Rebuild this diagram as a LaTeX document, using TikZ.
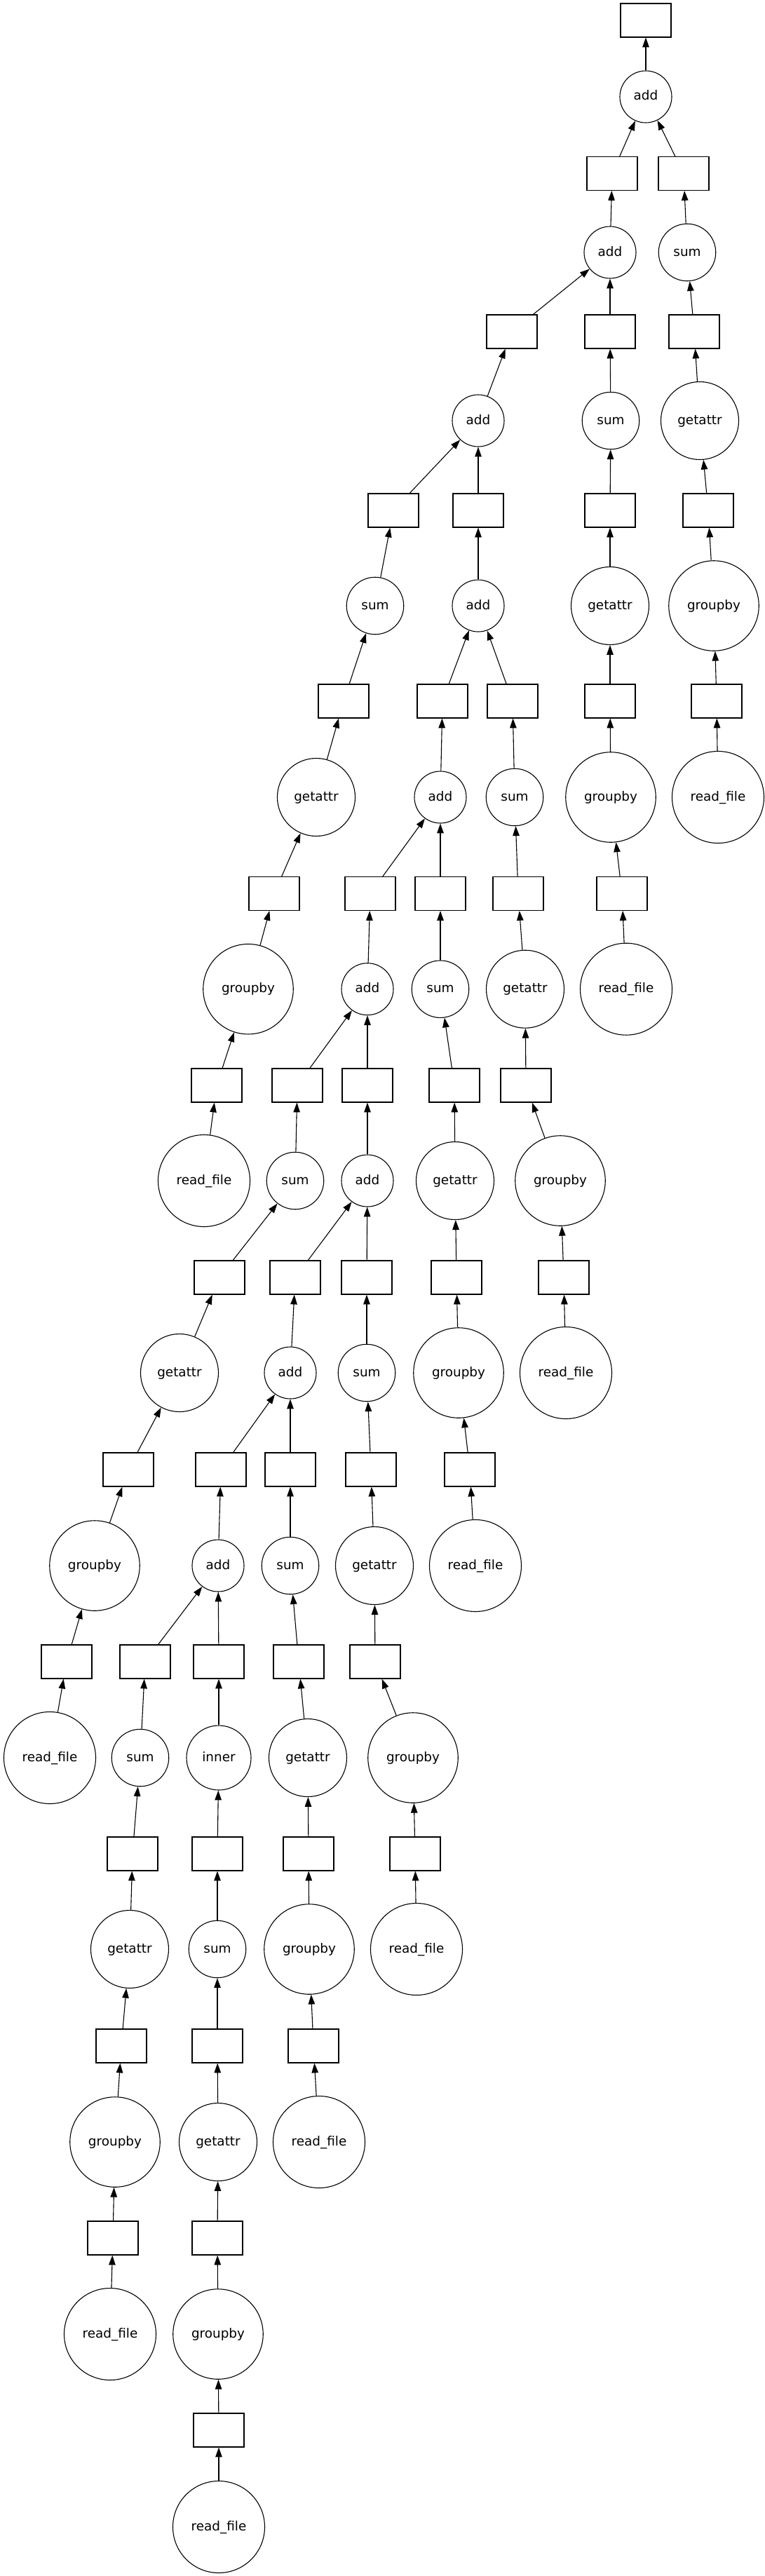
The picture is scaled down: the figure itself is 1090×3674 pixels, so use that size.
\documentclass[tikz,border=0pt]{standalone}
\usepackage{fontspec}
\setmainfont{DejaVu Sans}
\usetikzlibrary{arrows.meta}
\begin{document}
\begin{tikzpicture}[x=1pt,y=-1pt,
 dbox/.style={draw, rectangle, line width=1.1pt, minimum width=72pt, minimum height=48pt, inner sep=0pt},
 fn/.style={draw, circle, line width=1.1pt, inner sep=0pt, font=\fontsize{18.4}{22}\selectfont, text height=13.5pt, text depth=3.5pt},
 fadd/.style={fn, minimum size=74pt},
 fsum/.style={fn, minimum size=81.5pt},
 finner/.style={fn, minimum size=92pt},
 fget/.style={fn, minimum size=111pt},
 fgrp/.style={fn, minimum size=128.5pt},
 fread/.style={fn, minimum size=131pt},
 conn/.style={line width=1.1pt, -{Triangle[length=13.8pt,width=9.5pt]}}]
\useasboundingbox (0,0) rectangle (1090,3674);
% r0
\node[dbox] (B0) at (921,29) {};
% r1
\node[fadd] (A1) at (921,138) {add};
% r2
\node[dbox] (B2a) at (873,247.5) {};
\node[dbox] (B2b) at (975,247.5) {};
% r3
\node[fadd] (A3) at (870,360) {add};
\node[fsum] (S3) at (980,360) {sum};
% r4
\node[dbox] (B4a) at (730,473) {};
\node[dbox] (B4b) at (870,473) {};
\node[dbox] (B4c) at (990,473) {};
% r5
\node[fadd] (A5) at (682,600) {add};
\node[fsum] (S5) at (871,600) {sum};
\node[fget] (G5) at (998,600) {getattr};
% r6
\node[dbox] (B6a) at (561,728) {};
\node[dbox] (B6b) at (682,728) {};
\node[dbox] (B6c) at (870,728) {};
\node[dbox] (B6d) at (1010,728) {};
% r7
\node[fsum] (S7) at (535,864) {sum};
\node[fadd] (A7) at (682,864) {add};
\node[fget] (G7) at (870,864) {getattr};
\node[fgrp] (P7) at (1018,864) {groupby};
% r8
\node[dbox] (B8a) at (490,1000) {};
\node[dbox] (B8b) at (631,1000) {};
\node[dbox] (B8c) at (731,1000) {};
\node[dbox] (B8d) at (870,1000) {};
\node[dbox] (B8e) at (1022,1000) {};
% r9
\node[fget] (G9) at (451,1137) {getattr};
\node[fadd] (A9) at (628,1137) {add};
\node[fsum] (S9) at (734,1137) {sum};
\node[fgrp] (P9) at (871,1137) {groupby};
\node[fread] (R9) at (1024,1137) {read\_file};
% r10
\node[dbox] (B10a) at (391,1274.5) {};
\node[dbox] (B10b) at (528,1274.5) {};
\node[dbox] (B10c) at (628,1274.5) {};
\node[dbox] (B10d) at (739,1274.5) {};
\node[dbox] (B10e) at (887,1274.5) {};
% r11
\node[fgrp] (P11) at (354,1410.7) {groupby};
\node[fadd] (A11) at (524,1410.7) {add};
\node[fsum] (S11) at (628,1410.7) {sum};
\node[fget] (G11) at (749,1410.7) {getattr};
\node[fread] (R11) at (893,1410.7) {read\_file};
% r12
\node[dbox] (B12a) at (309,1548) {};
\node[dbox] (B12b) at (424,1548) {};
\node[dbox] (B12c) at (524,1548) {};
\node[dbox] (B12d) at (648,1548) {};
\node[dbox] (B12e) at (750,1548) {};
% r13
\node[fread] (R13) at (291,1684) {read\_file};
\node[fsum] (S13) at (421,1684) {sum};
\node[fadd] (A13) at (524,1684) {add};
\node[fget] (G13) at (649,1684) {getattr};
\node[fgrp] (P13) at (799,1684) {groupby};
% r14
\node[dbox] (B14a) at (313,1822) {};
\node[dbox] (B14b) at (421,1822) {};
\node[dbox] (B14c) at (523,1822) {};
\node[dbox] (B14d) at (651,1822) {};
\node[dbox] (B14e) at (804,1822) {};
% r15
\node[fget] (G15) at (256,1958) {getattr};
\node[fadd] (A15) at (414,1958) {add};
\node[fsum] (S15) at (523,1958) {sum};
\node[fgrp] (P15) at (654,1958) {groupby};
\node[fread] (R15) at (807,1958) {read\_file};
% r16
\node[dbox] (B16a) at (183,2096) {};
\node[dbox] (B16b) at (315,2096) {};
\node[dbox] (B16c) at (414,2096) {};
\node[dbox] (B16d) at (529,2096) {};
\node[dbox] (B16e) at (670,2096) {};
% r17
\node[fgrp] (P17) at (135,2233) {groupby};
\node[fadd] (A17) at (311,2233) {add};
\node[fsum] (S17) at (414,2233) {sum};
\node[fget] (G17) at (534,2233) {getattr};
\node[fread] (R17) at (678,2233) {read\_file};
% r18
\node[dbox] (B18a) at (95,2370) {};
\node[dbox] (B18b) at (207,2370) {};
\node[dbox] (B18c) at (312,2370) {};
\node[dbox] (B18d) at (426,2370) {};
\node[dbox] (B18e) at (535,2370) {};
% r19
\node[fread] (R19) at (71,2507) {read\_file};
\node[fsum] (S19) at (200,2507) {sum};
\node[finner] (I19) at (312,2507) {inner};
\node[fget] (G19) at (439,2507) {getattr};
\node[fgrp] (P19) at (589,2507) {groupby};
% r20
\node[dbox] (B20a) at (189,2644) {};
\node[dbox] (B20b) at (310,2644) {};
\node[dbox] (B20c) at (440,2644) {};
\node[dbox] (B20d) at (592,2644) {};
% r21
\node[fget] (G21) at (185,2780) {getattr};
\node[fsum] (S21) at (310,2780) {sum};
\node[fgrp] (P21) at (441,2780) {groupby};
\node[fread] (R21) at (594,2780) {read\_file};
% r22
\node[dbox] (B22a) at (173,2918) {};
\node[dbox] (B22b) at (310,2918) {};
\node[dbox] (B22c) at (447,2918) {};
% r23
\node[fgrp] (P23) at (164,3055) {groupby};
\node[fget] (G23) at (311,3055) {getattr};
\node[fread] (R23) at (455,3055) {read\_file};
% r24
\node[dbox] (B24a) at (161,3192) {};
\node[dbox] (B24b) at (310,3192) {};
% r25
\node[fread] (R25) at (157,3329) {read\_file};
\node[fgrp] (P25) at (311,3329) {groupby};
% r26
\node[dbox] (B26) at (312,3466) {};
% r27
\node[fread] (R27) at (312,3604) {read\_file};
% edges
\draw[conn] (A1) -- (B0);
\draw[conn] (B2a) -- (A1);
\draw[conn] (B2b) -- (A1);
\draw[conn] (A3) -- (B2a);
\draw[conn] (S3) -- (B2b);
\draw[conn] (B4a) -- (A3);
\draw[conn] (B4b) -- (A3);
\draw[conn] (B4c) -- (S3);
\draw[conn] (A5) -- (B4a);
\draw[conn] (S5) -- (B4b);
\draw[conn] (G5) -- (B4c);
\draw[conn] (B6a) -- (A5);
\draw[conn] (B6b) -- (A5);
\draw[conn] (B6c) -- (S5);
\draw[conn] (B6d) -- (G5);
\draw[conn] (S7) -- (B6a);
\draw[conn] (A7) -- (B6b);
\draw[conn] (G7) -- (B6c);
\draw[conn] (P7) -- (B6d);
\draw[conn] (B8a) -- (S7);
\draw[conn] (B8b) -- (A7);
\draw[conn] (B8c) -- (A7);
\draw[conn] (B8d) -- (G7);
\draw[conn] (B8e) -- (P7);
\draw[conn] (G9) -- (B8a);
\draw[conn] (A9) -- (B8b);
\draw[conn] (S9) -- (B8c);
\draw[conn] (P9) -- (B8d);
\draw[conn] (R9) -- (B8e);
\draw[conn] (B10a) -- (G9);
\draw[conn] (B10b) -- (A9);
\draw[conn] (B10c) -- (A9);
\draw[conn] (B10d) -- (S9);
\draw[conn] (B10e) -- (P9);
\draw[conn] (P11) -- (B10a);
\draw[conn] (A11) -- (B10b);
\draw[conn] (S11) -- (B10c);
\draw[conn] (G11) -- (B10d);
\draw[conn] (R11) -- (B10e);
\draw[conn] (B12a) -- (P11);
\draw[conn] (B12b) -- (A11);
\draw[conn] (B12c) -- (A11);
\draw[conn] (B12d) -- (S11);
\draw[conn] (B12e) -- (G11);
\draw[conn] (R13) -- (B12a);
\draw[conn] (S13) -- (B12b);
\draw[conn] (A13) -- (B12c);
\draw[conn] (G13) -- (B12d);
\draw[conn] (P13) -- (B12e);
\draw[conn] (B14a) -- (S13);
\draw[conn] (B14b) -- (A13);
\draw[conn] (B14c) -- (A13);
\draw[conn] (B14d) -- (G13);
\draw[conn] (B14e) -- (P13);
\draw[conn] (G15) -- (B14a);
\draw[conn] (A15) -- (B14b);
\draw[conn] (S15) -- (B14c);
\draw[conn] (P15) -- (B14d);
\draw[conn] (R15) -- (B14e);
\draw[conn] (B16a) -- (G15);
\draw[conn] (B16b) -- (A15);
\draw[conn] (B16c) -- (A15);
\draw[conn] (B16d) -- (S15);
\draw[conn] (B16e) -- (P15);
\draw[conn] (P17) -- (B16a);
\draw[conn] (A17) -- (B16b);
\draw[conn] (S17) -- (B16c);
\draw[conn] (G17) -- (B16d);
\draw[conn] (R17) -- (B16e);
\draw[conn] (B18a) -- (P17);
\draw[conn] (B18b) -- (A17);
\draw[conn] (B18c) -- (A17);
\draw[conn] (B18d) -- (S17);
\draw[conn] (B18e) -- (G17);
\draw[conn] (R19) -- (B18a);
\draw[conn] (S19) -- (B18b);
\draw[conn] (I19) -- (B18c);
\draw[conn] (G19) -- (B18d);
\draw[conn] (P19) -- (B18e);
\draw[conn] (B20a) -- (S19);
\draw[conn] (B20b) -- (I19);
\draw[conn] (B20c) -- (G19);
\draw[conn] (B20d) -- (P19);
\draw[conn] (G21) -- (B20a);
\draw[conn] (S21) -- (B20b);
\draw[conn] (P21) -- (B20c);
\draw[conn] (R21) -- (B20d);
\draw[conn] (B22a) -- (G21);
\draw[conn] (B22b) -- (S21);
\draw[conn] (B22c) -- (P21);
\draw[conn] (P23) -- (B22a);
\draw[conn] (G23) -- (B22b);
\draw[conn] (R23) -- (B22c);
\draw[conn] (B24a) -- (P23);
\draw[conn] (B24b) -- (G23);
\draw[conn] (R25) -- (B24a);
\draw[conn] (P25) -- (B24b);
\draw[conn] (B26) -- (P25);
\draw[conn] (R27) -- (B26);
\end{tikzpicture}
\end{document}
